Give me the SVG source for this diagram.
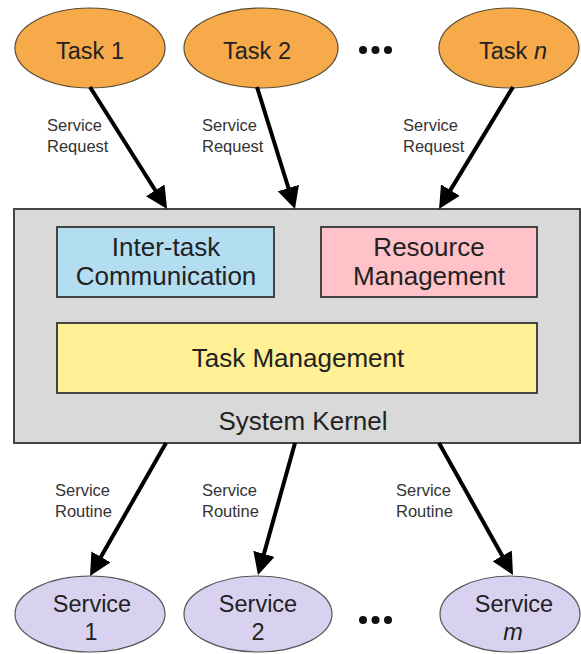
<svg xmlns="http://www.w3.org/2000/svg" width="581" height="654" viewBox="0 0 581 654">
<defs>
<style>
.task{fill:#f6aa4a;stroke:#5a4a30;stroke-width:1.2}
.svc{fill:#d8d2f0;stroke:#555;stroke-width:1.2}
.box{stroke:#333;stroke-width:1.8}
.big{font-family:"Liberation Sans",Arial,sans-serif;font-size:26px;fill:#222;text-anchor:middle}
.node{font-family:"Liberation Sans",Arial,sans-serif;font-size:23.5px;fill:#222;text-anchor:middle}
.lbl{font-family:"Liberation Sans",Arial,sans-serif;font-size:16.5px;fill:#333}
.arr{stroke:#000;stroke-width:4;fill:none;marker-end:url(#ah)}
.dot{fill:#111}
</style>
<marker id="ah" markerUnits="userSpaceOnUse" markerWidth="22" markerHeight="22" refX="12" refY="11" orient="auto">
<path d="M0,0 L22,11 L0,22 z" fill="#000"/>
</marker>
</defs>
<rect width="581" height="654" fill="#fff"/>

<g id="kernel">
<rect x="14" y="209" width="566" height="234" fill="#d9d9d9" stroke="#444" stroke-width="2"/>
<text class="big" x="303" y="430">System Kernel</text>
</g>
<g id="intertask">
<rect class="box" x="57" y="227" width="217" height="70" fill="#b3def2"/>
<text class="big" x="166" y="256">Inter-task</text>
<text class="big" x="166" y="285">Communication</text>
</g>
<g id="resource">
<rect class="box" x="321" y="227" width="216" height="70" fill="#ffc2c8"/>
<text class="big" x="429" y="256">Resource</text>
<text class="big" x="429" y="285">Management</text>
</g>
<g id="taskmgmt">
<rect class="box" x="57" y="323" width="480" height="70" fill="#fff096"/>
<text class="big" x="298" y="367">Task Management</text>
</g>

<g id="task1">
<ellipse class="task" cx="90" cy="48" rx="75" ry="40"/>
<text class="node" x="90" y="59">Task 1</text>
</g>
<g id="task2">
<ellipse class="task" cx="261" cy="48" rx="77" ry="40"/>
<text class="node" x="257" y="59">Task 2</text>
</g>
<g id="taskn">
<ellipse class="task" cx="509" cy="48" rx="70" ry="40"/>
<text class="node" x="513" y="59">Task <tspan font-style="italic">n</tspan></text>
</g>
<g id="dots-top">
<circle class="dot" cx="363" cy="50" r="4"/>
<circle class="dot" cx="375.5" cy="50" r="4"/>
<circle class="dot" cx="388" cy="50" r="4"/>
</g>

<g id="service1">
<ellipse class="svc" cx="90" cy="614" rx="75" ry="38"/>
<text class="node" x="92" y="612">Service</text>
<text class="node" x="91" y="640">1</text>
</g>
<g id="service2">
<ellipse class="svc" cx="258" cy="614" rx="74" ry="38"/>
<text class="node" x="258" y="612">Service</text>
<text class="node" x="258" y="640">2</text>
</g>
<g id="servicem">
<ellipse class="svc" cx="510" cy="614" rx="70" ry="38"/>
<text class="node" x="514" y="612">Service</text>
<text class="node" x="513" y="640" font-style="italic">m</text>
</g>
<g id="dots-bottom">
<circle class="dot" cx="363" cy="620" r="4"/>
<circle class="dot" cx="375.5" cy="620" r="4"/>
<circle class="dot" cx="388" cy="620" r="4"/>
</g>

<g id="connectors">
<line class="arr" x1="90" y1="87" x2="161.7" y2="200.5"/>
<line class="arr" x1="257" y1="87" x2="292" y2="199.5"/>
<line class="arr" x1="513" y1="87" x2="444.2" y2="200.4"/>
<line class="arr" x1="166" y1="443" x2="95" y2="567.3"/>
<line class="arr" x1="295" y1="443" x2="260.7" y2="565.4"/>
<line class="arr" x1="439" y1="443" x2="508.1" y2="566.3"/>
<text class="lbl" x="47" y="131">Service</text>
<text class="lbl" x="47" y="152">Request</text>
<text class="lbl" x="202" y="131">Service</text>
<text class="lbl" x="202" y="152">Request</text>
<text class="lbl" x="403" y="131">Service</text>
<text class="lbl" x="403" y="152">Request</text>
<text class="lbl" x="55" y="496">Service</text>
<text class="lbl" x="55" y="517">Routine</text>
<text class="lbl" x="202" y="496">Service</text>
<text class="lbl" x="202" y="517">Routine</text>
<text class="lbl" x="396" y="496">Service</text>
<text class="lbl" x="396" y="517">Routine</text>
</g>
</svg>
